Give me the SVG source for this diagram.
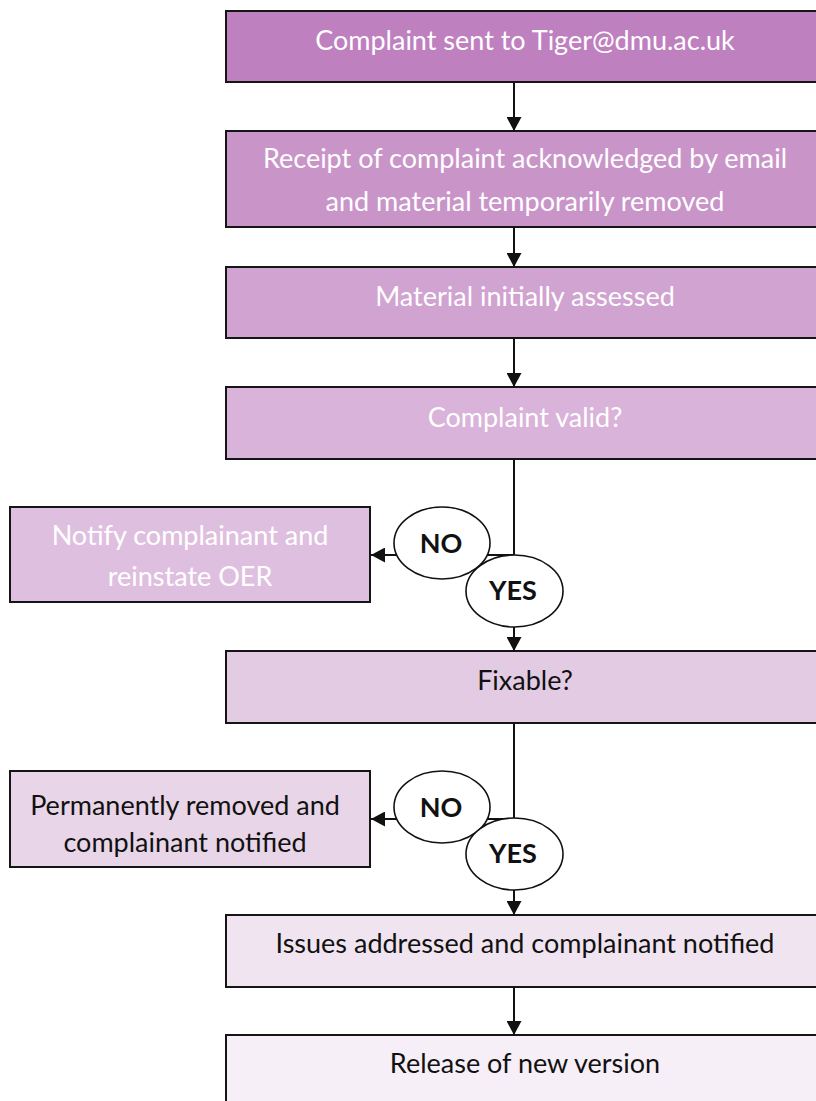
<svg xmlns="http://www.w3.org/2000/svg" width="816" height="1101" viewBox="0 0 816 1101">
<style>
.box{stroke:#151515;stroke-width:2}
.t{font-family:Lato,"Open Sans","Liberation Sans",sans-serif;font-size:27px;text-anchor:middle}
.w{fill:#ffffff}
.k{fill:#111111}
.lbl{font-family:Lato,"Open Sans","Liberation Sans",sans-serif;font-size:27px;font-weight:bold;text-anchor:middle;fill:#111}
.oval{fill:#ffffff;stroke:#111;stroke-width:1.6}
.c{stroke:#111;stroke-width:2;fill:none}
</style>
<defs>
<marker id="ah" markerUnits="userSpaceOnUse" viewBox="0 0 14 15" markerWidth="14" markerHeight="15" refX="14" refY="7.5" orient="auto">
<path d="M0,0 L14,7.5 L0,15 z" fill="#111"/>
</marker>
</defs>
<g id="connectors">
<line class="c" x1="514" y1="82" x2="514" y2="131" marker-end="url(#ah)"/>
<line class="c" x1="514" y1="227" x2="514" y2="267" marker-end="url(#ah)"/>
<line class="c" x1="514" y1="338" x2="514" y2="387" marker-end="url(#ah)"/>
<polyline class="c" points="514,459 514,555 371,555" marker-end="url(#ah)"/>
<line class="c" x1="514" y1="627" x2="514" y2="651" marker-end="url(#ah)"/>
<polyline class="c" points="514,723 514,819 371,819" marker-end="url(#ah)"/>
<line class="c" x1="514" y1="890" x2="514" y2="915" marker-end="url(#ah)"/>
<line class="c" x1="514" y1="987" x2="514" y2="1035" marker-end="url(#ah)"/>
</g>
<g id="n1">
<rect class="box" x="226" y="11" width="600" height="71" fill="#BF80BF"/>
<text class="t w" x="525" y="50">Complaint sent to Tiger@dmu.ac.uk</text>
</g>
<g id="n2">
<rect class="box" x="226" y="131" width="600" height="96" fill="#C995C9"/>
<text class="t w" x="525" y="168">Receipt of complaint acknowledged by email</text>
<text class="t w" x="525" y="211">and material temporarily removed</text>
</g>
<g id="n3">
<rect class="box" x="226" y="267" width="600" height="71" fill="#D0A3D0"/>
<text class="t w" x="525" y="306">Material initially assessed</text>
</g>
<g id="n4">
<rect class="box" x="226" y="387" width="600" height="72" fill="#D9B3D9"/>
<text class="t w" x="525" y="427">Complaint valid?</text>
</g>
<g id="n5">
<rect class="box" x="10" y="507" width="360" height="95" fill="#DFBFDF"/>
<text class="t w" x="190" y="545">Notify complainant and</text>
<text class="t w" x="190" y="586">reinstate OER</text>
</g>
<g id="no1">
<ellipse class="oval" cx="442" cy="543" rx="48" ry="36"/>
<text class="lbl" x="441" y="553">NO</text>
</g>
<g id="yes1">
<ellipse class="oval" cx="514.5" cy="591" rx="48.5" ry="36"/>
<text class="lbl" x="513" y="600">YES</text>
</g>
<g id="n6">
<rect class="box" x="226" y="651" width="600" height="72" fill="#E3CCE3"/>
<text class="t k" x="525" y="690">Fixable?</text>
</g>
<g id="n7">
<rect class="box" x="10" y="771" width="360" height="96" fill="#E8D6E8"/>
<text class="t k" x="185" y="815">Permanently removed and</text>
<text class="t k" x="185" y="852">complainant notified</text>
</g>
<g id="no2">
<ellipse class="oval" cx="442" cy="807" rx="48" ry="36"/>
<text class="lbl" x="441" y="817">NO</text>
</g>
<g id="yes2">
<ellipse class="oval" cx="514.5" cy="854" rx="48.5" ry="36"/>
<text class="lbl" x="513" y="863">YES</text>
</g>
<g id="n8">
<rect class="box" x="226" y="915" width="600" height="72" fill="#F0E4F0"/>
<text class="t k" x="525" y="953">Issues addressed and complainant notified</text>
</g>
<g id="n9">
<rect class="box" x="226" y="1035" width="600" height="72" fill="#F7EFF7"/>
<text class="t k" x="525" y="1073">Release of new version</text>
</g>
</svg>
